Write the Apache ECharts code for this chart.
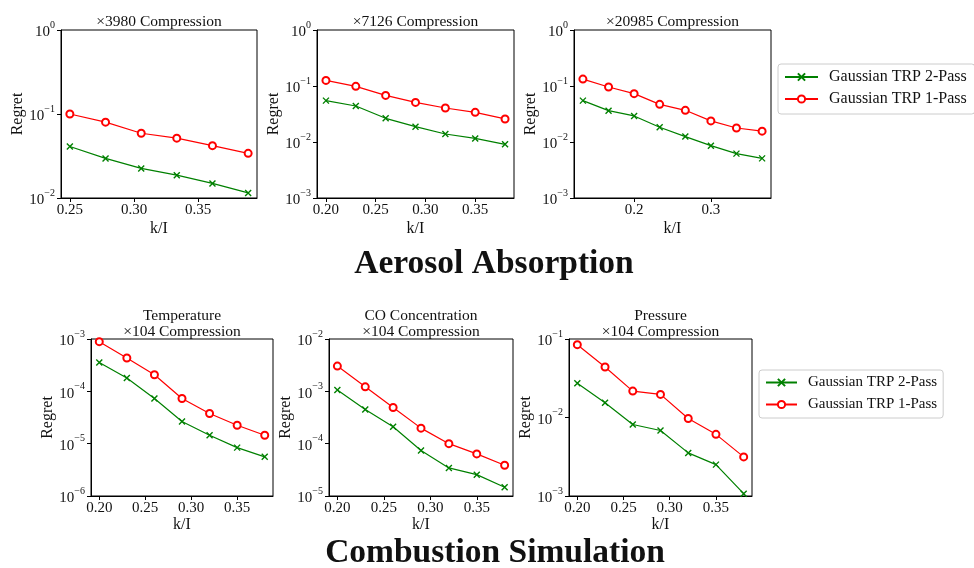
<!DOCTYPE html>
<html><head><meta charset="utf-8">
<script src="https://cdn.jsdelivr.net/npm/echarts@6/dist/echarts.min.js"></script>
<style>html,body{margin:0;padding:0;background:#fff}#c{width:974px;height:568px}</style>
</head><body><div id="c"></div>
<script>
// ---------- data ----------
const seriesNames = ['Gaussian TRP 2-Pass', 'Gaussian TRP 1-Pass'];

// Aerosol Absorption
const aeroX1 = [0.25, 0.2778, 0.3056, 0.3333, 0.3611, 0.3889];
const aero1TwoPass = [0.041, 0.0296, 0.0225, 0.0187, 0.0149, 0.0115];
const aero1OnePass = [0.100, 0.080, 0.059, 0.0516, 0.042, 0.034];

const aeroX2 = [0.20, 0.23, 0.26, 0.29, 0.32, 0.35, 0.38];
const aero2TwoPass = [0.0548, 0.044, 0.0265, 0.0188, 0.0139, 0.0116, 0.0091];
const aero2OnePass = [0.126, 0.0987, 0.068, 0.051, 0.0405, 0.0339, 0.0258];

const aeroX3 = [0.1333, 0.1667, 0.2, 0.2333, 0.2667, 0.3, 0.3333, 0.3667];
const aero3TwoPass = [0.0548, 0.0363, 0.0292, 0.0183, 0.0125, 0.0086, 0.0062, 0.0051];
const aero3OnePass = [0.133, 0.096, 0.073, 0.047, 0.0368, 0.0238, 0.0178, 0.0156];

// Combustion Simulation
const combX = [0.20, 0.23, 0.26, 0.29, 0.32, 0.35, 0.38];
const tempTwoPass = [3.57e-4, 1.79e-4, 7.3e-5, 2.65e-5, 1.45e-5, 8.4e-6, 5.6e-6];
const tempOnePass = [8.9e-4, 4.33e-4, 2.07e-4, 7.3e-5, 3.77e-5, 2.25e-5, 1.45e-5];
const coTwoPass = [1.06e-3, 4.51e-4, 2.1e-4, 7.4e-5, 3.44e-5, 2.56e-5, 1.47e-5];
const coOnePass = [3.04e-3, 1.22e-3, 4.91e-4, 1.98e-4, 1.0e-4, 6.37e-5, 3.86e-5];
const presTwoPass = [0.0274, 0.0154, 0.00814, 0.00683, 0.00354, 0.00251, 0.00107];
const presOnePass = [0.0847, 0.044, 0.0217, 0.0197, 0.0097, 0.0061, 0.00315];

// tick labels
const xTicksA1 = [0.25, 0.30, 0.35];
const xTicksA2 = [0.20, 0.25, 0.30, 0.35];
const xTicksA3 = [0.2, 0.3];
const xTicksC = [0.20, 0.25, 0.30, 0.35];

const panelTitles = ['×3980 Compression', '×7126 Compression', '×20985 Compression',
  'Temperature\n×104 Compression', 'CO Concentration\n×104 Compression', 'Pressure\n×104 Compression'];
const sectionTitles = ['Aerosol Absorption', 'Combustion Simulation'];

// ---------- layout ----------
const FONT = 'Liberation Serif';
const panels = [
  {grid:{left:61, top:30, width:196, height:168}, xmin:0.2431, xmax:0.3958, ticks:xTicksA1, dec:2, ymin:1e-2, ymax:1, xs:aeroX1, a:aero1TwoPass, b:aero1OnePass, ng:35},
  {grid:{left:317, top:30, width:197, height:168}, xmin:0.191, xmax:0.389, ticks:xTicksA2, dec:2, ymin:1e-3, ymax:1, xs:aeroX2, a:aero2TwoPass, b:aero2OnePass, ng:34},
  {grid:{left:574, top:30, width:197, height:168}, xmin:0.1217, xmax:0.3783, ticks:xTicksA3, dec:1, ymin:1e-3, ymax:1, xs:aeroX3, a:aero3TwoPass, b:aero3OnePass, ng:34},
  {grid:{left:91, top:339, width:182, height:157}, xmin:0.191, xmax:0.389, ticks:xTicksC, dec:2, ymin:1e-6, ymax:1e-3, xs:combX, a:tempTwoPass, b:tempOnePass, ng:32},
  {grid:{left:329, top:339, width:184, height:157}, xmin:0.191, xmax:0.389, ticks:xTicksC, dec:2, ymin:1e-5, ymax:1e-2, xs:combX, a:coTwoPass, b:coOnePass, ng:32},
  {grid:{left:569, top:339, width:183, height:157}, xmin:0.191, xmax:0.389, ticks:xTicksC, dec:2, ymin:1e-3, ymax:1e-1, xs:combX, a:presTwoPass, b:presOnePass, ng:32}
];

const GREEN = '#008000', RED = '#ff0000';
const crossPath = 'path://M0,0L10,10M10,0L0,10';

const grids = [], xAxes = [], yAxes = [], series = [], graphics = [];
panels.forEach((p, i) => {
  const top = i < 3;
  grids.push(Object.assign({show:true, borderColor:'#000', borderWidth:1, backgroundColor:'transparent'}, p.grid));
  xAxes.push({
    type:'value', gridIndex:i, min:p.xmin, max:p.xmax,
    name:'k/I', nameLocation:'middle', nameGap: top ? 23 : 16,
    nameTextStyle:{fontFamily:FONT, fontSize:16, color:'#111'},
    axisLine:{lineStyle:{color:'#000', width:1}},
    axisTick:{show:true, length:4, customValues:p.ticks, lineStyle:{color:'#000'}},
    axisLabel:{customValues:p.ticks, margin:5, fontFamily:FONT, fontSize:15, color:'#111',
      formatter:(v)=>Number(v).toFixed(p.dec)},
    splitLine:{show:false}
  });
  yAxes.push({
    type:'log', logBase:10, gridIndex:i, min:p.ymin, max:p.ymax,
    name:'Regret', nameLocation:'middle', nameGap:p.ng, nameRotate:90,
    nameTextStyle:{fontFamily:FONT, fontSize:16, color:'#111'},
    axisLine:{show:true, lineStyle:{color:'#000', width:1}},
    axisTick:{show:true, length:4, lineStyle:{color:'#000'}},
    minorTick:{show:false},
    axisLabel:{margin:6, fontFamily:FONT, color:'#111',
      formatter:(v)=>{const e=Math.round(Math.log10(v)); return '{b|10}{s|'+(e<0?'−'+(-e):e)+'}';},
      rich:{b:{fontFamily:FONT, fontSize:15, lineHeight:20, verticalAlign:'bottom', color:'#111'},
            s:{fontFamily:FONT, fontSize:10, lineHeight:20, verticalAlign:'top', color:'#111'}}},
    splitLine:{show:false}
  });
  series.push({
    name:seriesNames[0], type:'line', xAxisIndex:i, yAxisIndex:i,
    data:p.xs.map((x,k)=>[x,p.a[k]]),
    symbol:crossPath, symbolSize:6,
    lineStyle:{color:GREEN, width:1.2},
    itemStyle:{color:GREEN, borderColor:GREEN, borderWidth:1.4},
    emphasis:{disabled:true}, animation:false
  });
  series.push({
    name:seriesNames[1], type:'line', xAxisIndex:i, yAxisIndex:i,
    data:p.xs.map((x,k)=>[x,p.b[k]]),
    symbol:'emptyCircle', symbolSize:7,
    lineStyle:{color:RED, width:1.2},
    itemStyle:{color:RED, borderColor:RED, borderWidth:1.2},
    emphasis:{disabled:true}, animation:false
  });
  const cx = p.grid.left + p.grid.width/2;
  graphics.push({
    type:'text', x:cx, y: top ? 22 : 324,
    style:{text:panelTitles[i], fontFamily:FONT, fontSize:15.5, fill:'#111',
      align:'center', verticalAlign:'middle', lineHeight:16}
  });
});

graphics.push({type:'text', x:494, y:264, style:{text:sectionTitles[0], fontFamily:FONT, fontWeight:'bold', fontSize:33.5, fill:'#111', align:'center', verticalAlign:'middle'}});
graphics.push({type:'text', x:495, y:553, style:{text:sectionTitles[1], fontFamily:FONT, fontWeight:'bold', fontSize:33.5, fill:'#111', align:'center', verticalAlign:'middle'}});

const legendBase = {
  orient:'vertical', data:seriesNames, itemHeight:9,
  borderColor:'#ccc', borderWidth:1, borderRadius:3, backgroundColor:'#fff',
  selectedMode:false
};
const legends = [
  Object.assign({}, legendBase, {left:778, top:64, itemWidth:33, itemGap:6, padding:[5,8,7,6],
    textStyle:{fontFamily:FONT, fontSize:16, color:'#111', padding:[0,0,0,6]}}),
  Object.assign({}, legendBase, {left:759, top:370, itemWidth:31, itemGap:7, padding:[5,6,6,6],
    textStyle:{fontFamily:FONT, fontSize:15, color:'#111', padding:[0,0,0,6]}})
];

const chart = echarts.init(document.getElementById('c'), null, {renderer:'canvas'});
chart.setOption({
  animation:false,
  backgroundColor:'#fff',
  grid:grids, xAxis:xAxes, yAxis:yAxes, series:series,
  legend:legends, graphic:graphics
});
</script></body></html>
